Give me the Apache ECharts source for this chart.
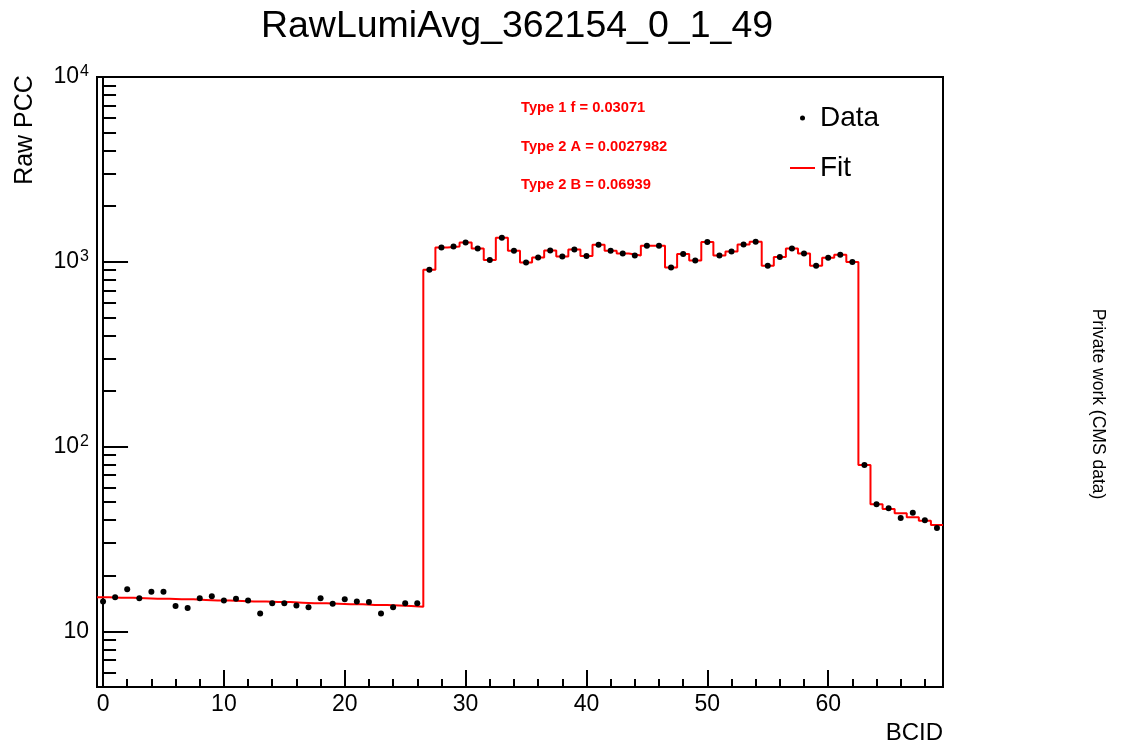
<!DOCTYPE html>
<html>
<head>
<meta charset="utf-8">
<title>RawLumiAvg_362154_0_1_49</title>
<script src="https://cdn.jsdelivr.net/npm/echarts@6/dist/echarts.min.js"></script>
<style>
  html, body { margin: 0; padding: 0; background: #fff; }
  #chart { width: 1121px; height: 748px; }
</style>
</head>
<body>
<div id="chart"></div>
<script>
const FONT = '"Liberation Sans", Arial, Helvetica, sans-serif';

// Raw PCC per BCID, one value per bin (BCID 0..69)
const rawPcc = [
  14.5, 15.3, 16.9, 15.1, 16.4, 16.4, 13.7, 13.4, 15.1, 15.5,
  14.7, 15.0, 14.7, 12.5, 14.2, 14.2, 13.8, 13.5, 15.1, 14.1,
  14.9, 14.5, 14.4, 12.5, 13.5, 14.2, 14.2,
  905, 1195, 1210, 1273, 1180, 1021, 1349, 1147, 991, 1055,
  1151, 1069, 1166, 1074, 1236, 1147, 1109, 1082, 1221, 1221,
  931, 1101, 1016, 1279, 1082, 1137, 1240, 1283, 951, 1060,
  1180, 1109, 951, 1051, 1091, 996,
  79.6, 48.7, 46.4, 41.1, 43.8, 39.9, 36.3
];

// Fitted model per BCID
const fitPcc = [
  15.3, 15.2, 15.2, 15.1, 15.0, 15.0, 14.9, 14.9, 14.8, 14.7,
  14.7, 14.6, 14.5, 14.5, 14.4, 14.4, 14.3, 14.2, 14.2, 14.1,
  14.0, 14.0, 13.9, 13.9, 13.8, 13.7, 13.6,
  905, 1195, 1210, 1273, 1180, 1021, 1349, 1147, 991, 1055,
  1151, 1069, 1166, 1074, 1236, 1147, 1109, 1082, 1221, 1221,
  931, 1101, 1016, 1279, 1082, 1137, 1240, 1283, 951, 1060,
  1180, 1109, 951, 1051, 1091, 996,
  79.6, 48.7, 46.0, 43.6, 41.5, 39.7, 37.6
];

// Histogram binning: unit-width bins centred on each BCID
const binWidth = 1;
const xRange = [-0.5, 69.5];
const yRange = [5, 10000];

const xMajorTicks = [0, 10, 20, 30, 40, 50, 60];
const xMinorTicks = [2, 4, 6, 8, 12, 14, 16, 18, 22, 24, 26, 28, 32, 34, 36, 38,
                     42, 44, 46, 48, 52, 54, 56, 58, 62, 64, 66, 68];
const yMajorTicks = [10, 100, 1000, 10000];
const yMinorTicks = [6, 7, 8, 9, 20, 30, 40, 50, 60, 70, 80, 90,
                     200, 300, 400, 500, 600, 700, 800, 900,
                     2000, 3000, 4000, 5000, 6000, 7000, 8000, 9000];

const fitParams = ['Type 1 f = 0.03071', 'Type 2 A = 0.0027982', 'Type 2 B = 0.06939'];

// Points at bin centres, fit drawn as a histogram outline across bin edges
const dataPoints = rawPcc.map((v, i) => [i, v]);
const fitSteps = [];
fitPcc.forEach((v, i) => {
  fitSteps.push([i - binWidth / 2, v]);
  fitSteps.push([i + binWidth / 2, v]);
});

const chart = echarts.init(document.getElementById('chart'), null, { renderer: 'canvas' });

const tickStyle = { color: '#000', width: 2 };

const option = {
  animation: false,
  backgroundColor: '#fff',
  textStyle: { fontFamily: FONT },
  grid: {
    left: 97, top: 77, width: 846, height: 610,
    show: true, borderColor: '#000', borderWidth: 2, backgroundColor: 'transparent'
  },
  legend: {
    orient: 'vertical',
    left: 790, top: 104,
    padding: 0,
    itemGap: 22,
    itemWidth: 25, itemHeight: 5,
    selectedMode: false,
    textStyle: { fontFamily: FONT, fontSize: 28, color: '#000', lineHeight: 28 },
    data: [
      { name: 'Data', icon: 'circle' },
      { name: 'Fit', icon: 'path://M0,0H25V2H0Z' }
    ]
  },
  xAxis: [
    {
      type: 'value', min: xRange[0], max: xRange[1],
      axisLine: { show: true, lineStyle: tickStyle },
      axisTick: { show: true, inside: true, length: 17, customValues: xMajorTicks, lineStyle: tickStyle },
      axisLabel: { show: true, customValues: xMajorTicks, fontFamily: FONT, fontSize: 23, color: '#000', margin: 6 },
      splitLine: { show: false }
    },
    {
      type: 'value', min: xRange[0], max: xRange[1], position: 'bottom',
      axisLine: { show: false },
      axisTick: { show: true, inside: true, length: 8, customValues: xMinorTicks, lineStyle: tickStyle },
      axisLabel: { show: false },
      splitLine: { show: false }
    }
  ],
  yAxis: [
    {
      type: 'log', logBase: 10, min: yRange[0], max: yRange[1],
      axisLine: { show: true, lineStyle: tickStyle },
      axisTick: { show: true, inside: true, length: 25, customValues: yMajorTicks, lineStyle: tickStyle },
      axisLabel: {
        show: true, customValues: yMajorTicks, margin: 8, color: '#000',
        formatter: v => {
          const p = Math.round(Math.log10(v));
          return p === 1 ? '{b|10}' : '{b|10}{s|' + p + '}';
        },
        rich: {
          b: { fontFamily: FONT, fontSize: 23, color: '#000', lineHeight: 26 },
          s: { fontFamily: FONT, fontSize: 16, color: '#000', verticalAlign: 'top', lineHeight: 16, padding: [0, 0, 0, 1] }
        }
      },
      splitLine: { show: false }
    },
    {
      type: 'log', logBase: 10, min: yRange[0], max: yRange[1], position: 'left',
      axisLine: { show: false },
      axisTick: { show: true, inside: true, length: 13, customValues: yMinorTicks, lineStyle: tickStyle },
      axisLabel: { show: false },
      splitLine: { show: false }
    }
  ],
  series: [
    {
      name: 'Fit', type: 'line', xAxisIndex: 0, yAxisIndex: 0,
      data: fitSteps, symbol: 'none', z: 2,
      lineStyle: { color: '#ff0000', width: 2 },
      itemStyle: { color: '#ff0000' }
    },
    {
      name: 'Data', type: 'scatter', xAxisIndex: 0, yAxisIndex: 0,
      data: dataPoints, symbol: 'circle', symbolSize: 6, z: 3,
      itemStyle: { color: '#000', opacity: 1 }
    }
  ],
  graphic: [
    {
      type: 'text', x: 517, y: 27, z: 10,
      style: { text: 'RawLumiAvg_362154_0_1_49', font: '37.5px ' + FONT, fill: '#000', align: 'center', verticalAlign: 'middle' }
    },
    {
      type: 'text', x: 25, y: 130, rotation: Math.PI / 2, z: 10,
      style: { text: 'Raw PCC', font: '25px ' + FONT, fill: '#000', align: 'center', verticalAlign: 'middle' }
    },
    {
      type: 'text', x: 943, y: 733, z: 10,
      style: { text: 'BCID', font: '24px ' + FONT, fill: '#000', align: 'right', verticalAlign: 'middle' }
    },
    {
      type: 'text', x: 1098, y: 404, rotation: -Math.PI / 2, z: 10,
      style: { text: 'Private work (CMS data)', font: '17.5px ' + FONT, fill: '#000', align: 'center', verticalAlign: 'middle' }
    },
    ...fitParams.map((t, k) => ({
      type: 'text', x: 521, y: [107.5, 147, 184.5][k], z: 10,
      style: { text: t, font: 'bold 14.7px ' + FONT, fill: '#ff0000', align: 'left', verticalAlign: 'middle' }
    }))
  ]
};

chart.setOption(option);
</script>
</body>
</html>
